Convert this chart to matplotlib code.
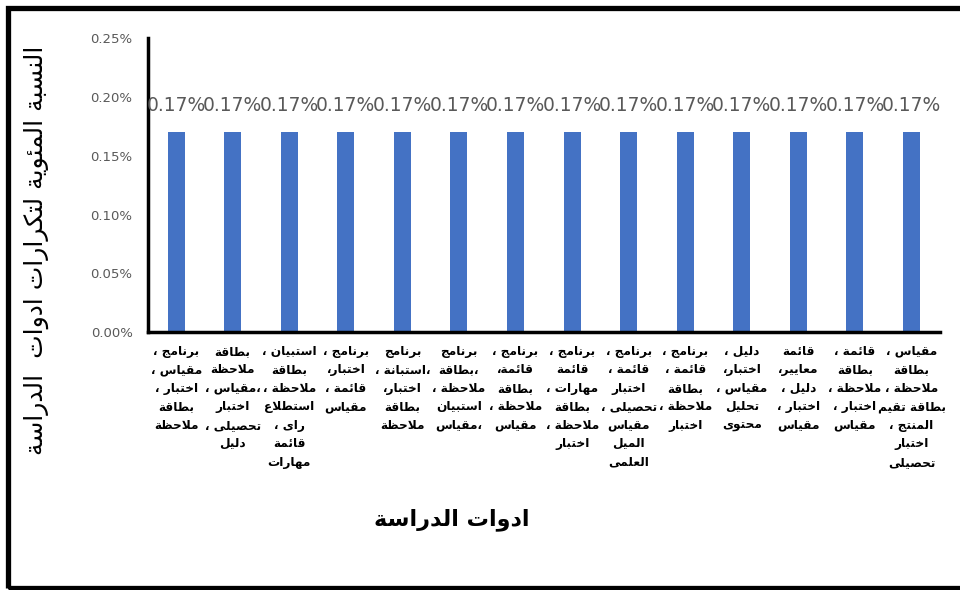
import matplotlib.pyplot as plt
import numpy as np
from matplotlib.patches import Rectangle
from matplotlib.ticker import PercentFormatter

# Study tools, one wrapped label per bar (logical Arabic order, lines split by \n)
tools = [
    "برنامج ،\nمقياس ،\nاختبار ،\nبطاقة\nملاحظة",
    "بطاقة\nملاحظة\n،مقياس ،\nاختبار\nتحصيلى ،\nدليل",
    "استبيان ،\nبطاقة\nملاحظة ،\nاستطلاع\nراى ،\nقائمة\nمهارات",
    "برنامج ،\nاختبار،\nقائمة ،\nمقياس",
    "برنامج\n،استبانة ،\nاختبار،\nبطاقة\nملاحظة",
    "برنامج\n،بطاقة\nملاحظة ،\nاستبيان\n،مقياس",
    "برنامج ،\nقائمة،\nبطاقة\nملاحظة ،\nمقياس",
    "برنامج ،\nقائمة\nمهارات ،\nبطاقة\nملاحظة ،\nاختبار",
    "برنامج ،\nقائمة ،\nاختبار\nتحصيلى ،\nمقياس\nالميل\nالعلمى",
    "برنامج ،\nقائمة ،\nبطاقة\nملاحظة ،\nاختبار",
    "دليل ،\nاختبار،\nمقياس ،\nتحليل\nمحتوى",
    "قائمة\nمعايير،\nدليل ،\nاختبار ،\nمقياس",
    "قائمة ،\nبطاقة\nملاحظة ،\nاختبار ،\nمقياس",
    "مقياس ،\nبطاقة\nملاحظة ،\nبطاقة تقيم\nالمنتج ،\nاختبار\nتحصيلى",
]
shares = [0.0017, 0.0017, 0.0017, 0.0017, 0.0017, 0.0017, 0.0017,
          0.0017, 0.0017, 0.0017, 0.0017, 0.0017, 0.0017, 0.0017]

y_title = "النسبة المئوية لتكرارات ادوات  الدراسة"
x_title = "ادوات الدراسة"

# matplotlib has no Arabic shaping: map letters to presentation forms by hand
LETTERS = "ءآأؤإئابةتثجحخدذرزسشصضطظعغفقكلمنهوىي"
N_FORMS = [1, 2, 2, 2, 2, 4, 2, 4, 2, 4, 4, 4, 4, 4, 2, 2, 2, 2,
           4, 4, 4, 4, 4, 4, 4, 4, 4, 4, 4, 4, 4, 4, 4, 2, 2, 4]
FORMS = {}
code = 0xFE80
for ch, n in zip(LETTERS, N_FORMS):
    FORMS[ch] = [chr(code + k) for k in range(n)]
    code += n
LAM_ALEF = {'آ': 0xFEF5, 'أ': 0xFEF7, 'إ': 0xFEF9, 'ا': 0xFEFB}


def shape_line(line):
    units = []  # (forms or plain char, dual joining)
    i = 0
    while i < len(line):
        ch = line[i]
        if ch == 'ل' and i + 1 < len(line) and line[i + 1] in LAM_ALEF:
            base = LAM_ALEF[line[i + 1]]
            units.append(([chr(base), chr(base + 1)], False))
            i += 2
            continue
        if ch in FORMS:
            units.append((FORMS[ch], len(FORMS[ch]) == 4))
        else:
            units.append((ch, False))
        i += 1

    out = []
    for k, (f, dual) in enumerate(units):
        if isinstance(f, str):
            out.append(f)
            continue
        prev = units[k - 1] if k > 0 else None
        nxt = units[k + 1] if k + 1 < len(units) else None
        join_prev = prev is not None and prev[1] and len(f) > 1
        join_next = dual and nxt is not None and not isinstance(nxt[0], str) and len(nxt[0]) > 1
        if join_prev and join_next:
            idx = 3
        elif join_prev:
            idx = 1
        elif join_next:
            idx = 2
        else:
            idx = 0
        out.append(f[idx])
    return ''.join(reversed(out))


def shape(text):
    return '\n'.join(shape_line(l) for l in text.split('\n'))


plt.rcParams['font.family'] = ['DejaVu Sans']

fig = plt.figure(figsize=(9.6, 5.9), dpi=100)
ax = fig.add_axes([0.154, 0.437, 0.825, 0.4985])

x = np.arange(len(tools))
bars = ax.bar(x, shares, width=0.3, color='#4472C4')

for xi, v in zip(x, shares):
    ax.annotate(f"{v * 100:.2f}%", (xi, v), xytext=(0, 15), textcoords='offset points',
                ha='center', va='baseline', fontsize=13.5, color='#595959')

ax.set_xlim(-0.5, len(tools) - 0.5)
ax.set_ylim(0, 0.0025)
ax.set_yticks([0, 0.0005, 0.001, 0.0015, 0.002, 0.0025])
ax.yaxis.set_major_formatter(PercentFormatter(xmax=1, decimals=2))
ax.set_xticks(x, labels=[shape(t) for t in tools])

ax.tick_params(axis='y', length=0, pad=11, labelsize=9.5, labelcolor='#595959')
ax.tick_params(axis='x', length=0, pad=9, labelsize=8.7)
for lbl in ax.get_xticklabels():
    lbl.set_fontweight('bold')
    lbl.set_linespacing(1.55)

for side in ['top', 'right']:
    ax.spines[side].set_visible(False)
for side in ['left', 'bottom']:
    ax.spines[side].set_linewidth(2.5)
    ax.spines[side].set_color('black')

fig.text(36 / 960, 1 - 250 / 590, shape(y_title), rotation=90,
         ha='center', va='center', fontsize=18, color='black')
fig.text(452 / 960, 1 - 520 / 590, shape(x_title), ha='center', va='center',
         fontsize=16, fontweight='bold')

# black frame around the whole chart
fig.patches.append(Rectangle((8 / 960, 2.5 / 590), 1.05, 1 - 10 / 590,
                             transform=fig.transFigure, fill=False,
                             edgecolor='black', linewidth=3.8))

fig.savefig('out.png', dpi=100)
